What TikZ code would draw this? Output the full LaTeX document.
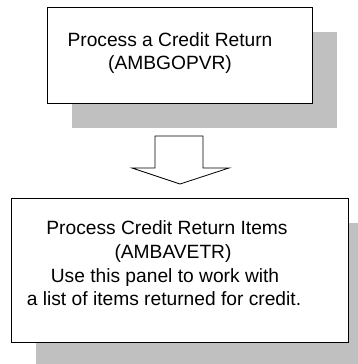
\documentclass[tikz,border=0pt]{standalone}
\usepackage{fontspec}
\setmainfont{Liberation Sans}
\definecolor{shadowgray}{HTML}{C0C0C0}
\tikzset{
  shadowbox/.style={fill=shadowgray, draw=none},
  panelbox/.style={draw=black, fill=white, line width=1pt, inner sep=0pt},
  label/.style={anchor=base, inner sep=0pt, font=\fontsize{19.2}{23.5}\selectfont},
  blockarrow/.style={draw=black, line width=0.8pt, fill=white, line join=miter}
}
\begin{document}
\begin{tikzpicture}[x=1pt,y=-1pt]
\useasboundingbox (0,0) rectangle (358,364);
% shadows
\fill[shadowgray] (72,32) rectangle (337,128);
\fill[shadowgray] (36,223) rectangle (358,364);
% boxes
\node[panelbox, minimum width=265pt, minimum height=96pt] (top) at (179.5,55) {};
\node[panelbox, minimum width=337pt, minimum height=144pt] (bottom) at (179.5,270) {};
% texts
\node[label] (t1) at (170,46) {Process a Credit Return};
\node[label] (t2) at (170,69) {(AMBGOPVR)};
\node[label] (b1) at (167,234) {Process Credit Return Items};
\node[label] (b2) at (173,258) {(AMBAVETR)};
\node[label] (b3) at (165,282) {Use this panel to work with};
\node[label] (b4) at (164,305) {a list of items returned for credit.};
% block arrow
\coordinate (tip) at (180,184);
\draw[blockarrow] (155,136) -- (203,136) -- (203,168) -- (229,168) -- (tip) -- (132,168) -- (155,168) -- cycle;
\end{tikzpicture}
\end{document}
